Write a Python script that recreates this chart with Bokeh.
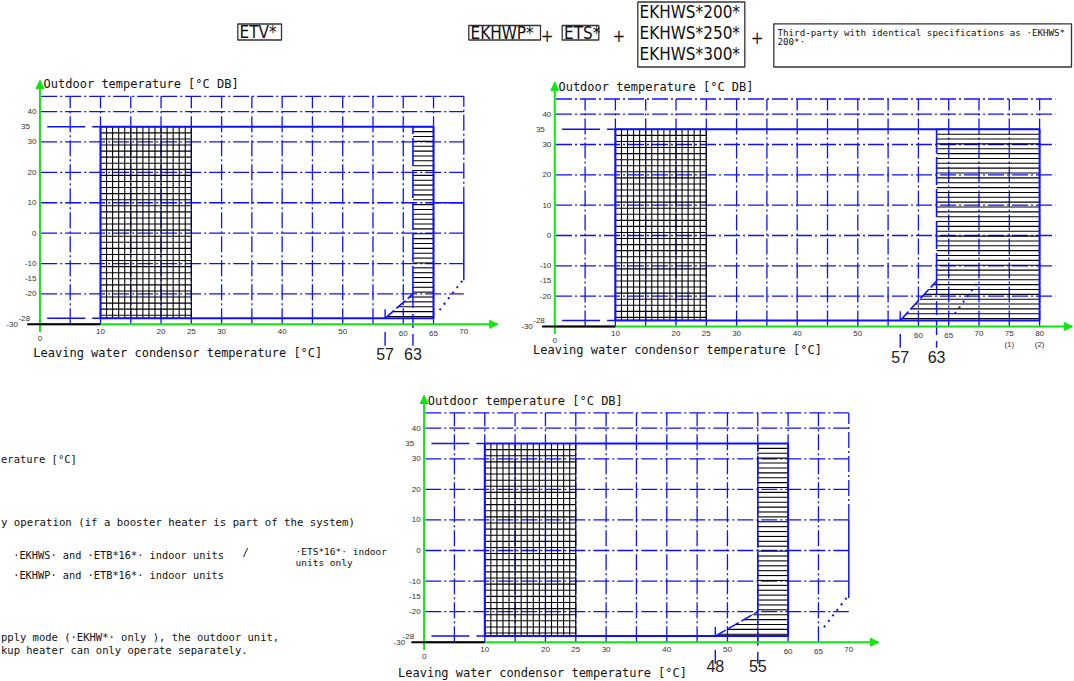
import numpy as np
from bokeh.plotting import figure
from bokeh.models import Range1d, Arrow, NormalHead
from bokeh.layouts import column, row
from bokeh.embed import file_html
from bokeh.resources import INLINE
from bokeh.core.properties import value

# ---------------- data ----------------
header_boxes = ["ETV*", "EKHWP* ", "ETS*"]
header_stack = ["EKHWS*200*", "EKHWS*250*", "EKHWS*300*"]
header_third = ["Third-party with identical specifications as ·EKHWS*", "200*·"]

y_axis_title = "Outdoor temperature [°C DB]"
x_axis_title = "Leaving water condensor temperature [°C]"
y_tick_values = [40, 35, 30, 20, 10, 0, -10, -15, -20, -28, -30]
y_tick_labels = ["40", "35", "30", "20", "10", "0", "-10", "-15", "-20", "-28", "-30"]
y_grid_values = [45, 40, 30, 20, 10, 0, -10, -20]

outdoor_min, outdoor_max = -28, 35
lwt_min = 10
space_heating_max = 25
axis_bottom = -30

# chart 1 : ETV*
c1_x_ticks = [0, 10, 20, 25, 30, 40, 50, 60, 65, 70]
c1_x_notes = []
c1_lwt_max = 65
c1_knee_x = 61.6          # drawn position of the 63 °C limit
c1_knee_y = -20
c1_ramp_x = 57
c1_marks_x = [57, 61.6]
c1_marks_lab = ["57", "63"]
c1_grid_x_max = 70
c1_grid_h_end = 70
c1_dotted_x = [66.0, 69.8]
c1_dotted_y = [-25.3, -15.5]

# chart 2 : EKHWP* + ETS* + EKHWS*
c2_x_ticks = [0, 10, 20, 25, 30, 40, 50, 60, 65, 70, 75, 80]
c2_x_notes = [(75, "(1)"), (80, "(2)")]
c2_lwt_max = 80
c2_knee_x = 63
c2_knee_y = -15
c2_ramp_x = 57
c2_marks_x = [57, 63]
c2_marks_lab = ["57", "63"]
c2_grid_x_max = 80
c2_grid_h_end = 82.6
c2_dotted_x = [66.0, 69.8]
c2_dotted_y = [-25.8, -15.4]

# chart 3
c3_x_ticks = [0, 10, 20, 25, 30, 40, 50, 60, 65, 70]
c3_x_notes = []
c3_lwt_max = 60
c3_knee_x = 55
c3_knee_y = -20
c3_ramp_x = 48
c3_marks_x = [48, 55]
c3_marks_lab = ["48", "55"]
c3_grid_x_max = 70
c3_grid_h_end = 70
c3_dotted_x = [65.9, 69.7]
c3_dotted_y = [-25.1, -15.3]

notes_text = [
    "erature [°C]",
    "y operation (if a booster heater is part of the system)",
    "·EKHWS· and ·ETB*16*· indoor units",
    "/",
    "·ETS*16*· indoor",
    "units only",
    "·EKHWP· and ·ETB*16*· indoor units",
    "pply mode (·EKHW*· only ), the outdoor unit,",
    "kup heater can only operate separately.",
]

# ---------------- styles ----------------
BLUE = "#1010ff"
GREEN = "#10e610"
GRID_DASH = "16 3 2 3"
MONO = value("DejaVu Sans Mono")
COND = value("DejaVu Sans Condensed")
TICKF = value("Liberation Sans")


def make_fig(L, T, R, B, ox, oy, sx, sy):
    p = figure(width=R - L, height=B - T,
               x_range=Range1d((L - ox) / sx, (R - ox) / sx),
               y_range=Range1d((oy - B) / sy, (oy - T) / sy),
               output_backend="svg", toolbar_location=None, tools="",
               x_axis_location=None, y_axis_location=None,
               min_border=0, outline_line_color=None,
               background_fill_color="white", border_fill_color="white")
    p.grid.visible = False
    return p


def draw_chart(p, cfg):
    lmax = cfg["lwt_max"]
    # vertical grid
    xs, ys = [], []
    for x in range(5, cfg["grid_x_max"] + 1, 5):
        bot = axis_bottom
        if cfg["ext"] and x == cfg["grid_x_max"]:
            bot = 10
        xs.append([x, x])
        ys.append([bot, 45])
    p.multi_line(xs, ys, line_color=BLUE, line_width=1.3, line_dash=GRID_DASH)
    # horizontal grid
    p.multi_line([[0.2, cfg["grid_h_end"]] for _ in y_grid_values],
                 [[y, y] for y in y_grid_values],
                 line_color=BLUE, line_width=1.3, line_dash=GRID_DASH)
    if cfg["ext"]:
        p.line([cfg["grid_x_max"], cfg["grid_x_max"]], [10, -15.5], line_color=BLUE, line_width=1.5)
        if cfg["ext_h"]:
            p.line([lmax, cfg["grid_x_max"]], [10, 10], line_color=BLUE, line_width=1.5)

    # cross hatched zone
    hx = np.arange(lwt_min, space_heating_max + 0.01, 1.0)
    p.multi_line([[x, x] for x in hx], [[outdoor_min, outdoor_max] for _ in hx],
                 line_color="black", line_width=1.1)
    hy = np.append(np.arange(outdoor_max, outdoor_min, -2.0), outdoor_min)
    p.multi_line([[lwt_min, space_heating_max] for _ in hy], [[y, y] for y in hy],
                 line_color="black", line_width=1.1)

    # horizontally hatched zone
    kx, ky, rx = cfg["knee_x"], cfg["knee_y"], cfg["ramp_x"]
    sy = np.arange(outdoor_max, outdoor_min - 0.01, -1.6)
    left = np.where(sy >= ky, kx, rx + (sy - outdoor_min) / (ky - outdoor_min) * (kx - rx))
    p.multi_line([[l, lmax] for l in left], [[y, y] for y in sy],
                 line_color="black", line_width=1.1)

    # envelope
    p.multi_line([[lwt_min, lmax], [lwt_min, lmax]], [[outdoor_max] * 2, [outdoor_min] * 2],
                 line_color=BLUE, line_width=2)
    p.multi_line([[lwt_min] * 2, [lmax] * 2], [[outdoor_min, outdoor_max]] * 2,
                 line_color=BLUE, line_width=2)
    p.multi_line([[1.2, lwt_min], [1.2, lwt_min]], [[outdoor_max] * 2, [outdoor_min] * 2],
                 line_color=BLUE, line_width=1.5, line_dash="38 7")
    p.line([kx, kx], [ky, outdoor_max], line_color=BLUE, line_width=1.6, line_dash="28 4")
    p.line([rx, kx], [outdoor_min, ky], line_color=BLUE, line_width=1.6, line_dash="12 3")
    p.line([rx, rx], [outdoor_min, outdoor_min + 3], line_color=BLUE, line_width=1.4)
    p.line([kx, kx], [ky, -37], line_color=BLUE, line_width=1.4, line_dash="14 6")
    p.line([rx, rx], [-32.5, -37], line_color=BLUE, line_width=1.4)
    p.line(cfg["dotted_x"], cfg["dotted_y"], line_color=BLUE, line_width=2, line_dash="2 5")

    # axes
    p.line([0, 0], [-32.5, cfg["y_arrow"]], line_color=GREEN, line_width=2)
    p.line([0, cfg["x_arrow"]], [axis_bottom, axis_bottom], line_color=GREEN, line_width=2)
    p.line([-2.1, lwt_min], [axis_bottom, axis_bottom], line_color="black", line_width=2)
    p.add_layout(Arrow(end=NormalHead(size=8, fill_color=GREEN, line_color=GREEN),
                       x_start=0, y_start=cfg["y_arrow"] - 0.5, x_end=0, y_end=cfg["y_arrow"],
                       line_color=GREEN, line_width=2))
    p.add_layout(Arrow(end=NormalHead(size=8, fill_color=GREEN, line_color=GREEN),
                       x_start=cfg["x_arrow"] - 0.3, y_start=axis_bottom,
                       x_end=cfg["x_arrow"], y_end=axis_bottom,
                       line_color=GREEN, line_width=2))

    # tick labels
    yoff = [cfg["m30_off"] if v == -30 else (-10 if v in (35, -28) else -3.5) for v in y_tick_values]
    p.text(x=[0] * len(y_tick_values), y=y_tick_values, text=y_tick_labels, x_offset=yoff,
           text_align="right", text_baseline="middle", text_font=TICKF,
           text_font_size="8px", text_color="#333333")
    xt = cfg["x_ticks"]
    xoff = [14 if v == 0 else (9 if v in (60, 65) else 7) for v in xt]
    p.text(x=xt, y=[axis_bottom] * len(xt), text=[str(v) for v in xt], y_offset=xoff,
           text_align="center", text_baseline="middle", text_font=TICKF,
           text_font_size="8px", text_color="#333333")
    if cfg["x_notes"]:
        p.text(x=[n[0] for n in cfg["x_notes"]], y=[axis_bottom] * len(cfg["x_notes"]),
               text=[n[1] for n in cfg["x_notes"]], y_offset=18,
               text_align="center", text_baseline="middle", text_font=TICKF,
               text_font_size="8px", text_color="#333333")
    p.text(x=cfg["marks_x"], y=[axis_bottom] * 2, text=cfg["marks_lab"], y_offset=cfg["mark_off"],
           text_align="center", text_baseline="middle", text_font=TICKF,
           text_font_size="16px", text_color="#222222")
    # titles
    p.text(x=[0.6], y=[49], text=[y_axis_title], text_align="left", text_baseline="middle",
           text_font=MONO, text_font_size="12px", text_color="#111111")
    p.text(x=[cfg["xt_x"]], y=[axis_bottom], text=[x_axis_title], y_offset=cfg["xt_off"],
           text_align="left", text_baseline="middle",
           text_font=MONO, text_font_size="12px", text_color="#111111")


cfg1 = dict(lwt_max=c1_lwt_max, knee_x=c1_knee_x, knee_y=c1_knee_y, ramp_x=c1_ramp_x,
            marks_x=c1_marks_x, marks_lab=c1_marks_lab, grid_x_max=c1_grid_x_max,
            grid_h_end=c1_grid_h_end, dotted_x=c1_dotted_x, dotted_y=c1_dotted_y,
            x_ticks=c1_x_ticks, x_notes=c1_x_notes, ext=True, ext_h=True, m30_off=-22,
            x_arrow=75.6, y_arrow=50.2, mark_off=29.5, xt_x=-1.1, xt_off=29)
cfg2 = dict(lwt_max=c2_lwt_max, knee_x=c2_knee_x, knee_y=c2_knee_y, ramp_x=c2_ramp_x,
            marks_x=c2_marks_x, marks_lab=c2_marks_lab, grid_x_max=c2_grid_x_max,
            grid_h_end=c2_grid_h_end, dotted_x=c2_dotted_x, dotted_y=c2_dotted_y,
            x_ticks=c2_x_ticks, x_notes=c2_x_notes, ext=False, ext_h=False, m30_off=-22,
            x_arrow=85.4, y_arrow=50.5, mark_off=30.5, xt_x=-3.6, xt_off=23.5)
cfg3 = dict(lwt_max=c3_lwt_max, knee_x=c3_knee_x, knee_y=c3_knee_y, ramp_x=c3_ramp_x,
            marks_x=c3_marks_x, marks_lab=c3_marks_lab, grid_x_max=c3_grid_x_max,
            grid_h_end=c3_grid_h_end, dotted_x=c3_dotted_x, dotted_y=c3_dotted_y,
            x_ticks=c3_x_ticks, x_notes=c3_x_notes, ext=True, ext_h=False, m30_off=-19,
            x_arrow=74.9, y_arrow=50.7, mark_off=23.5, xt_x=-4.3, xt_off=30.5)

f1 = make_fig(0, 70, 520, 370, 39.45, 232.67, 6.055, 3.04)
draw_chart(f1, cfg1)
f2 = make_fig(520, 70, 1074, 370, 554.3, 235.0, 6.06, 3.033)
draw_chart(f2, cfg2)
f3 = make_fig(390, 370, 1074, 681, 423.6, 550.0, 6.067, 3.0575)
draw_chart(f3, cfg3)

# ---------------- header ----------------
hdr = figure(width=1074, height=70, x_range=Range1d(0, 1074), y_range=Range1d(70, 0),
             output_backend="svg", toolbar_location=None, tools="",
             x_axis_location=None, y_axis_location=None, min_border=0,
             outline_line_color=None, background_fill_color="white", border_fill_color="white")
hdr.grid.visible = False
box_l = [237.3, 468.3, 561.7, 637.3, 773.3]
box_r = [281.0, 540.0, 598.3, 744.3, 1071.0]
box_t = [23.5, 25.0, 25.0, 1.5, 23.3]
box_b = [39.5, 39.5, 39.5, 66.5, 66.5]
hdr.quad(left=box_l, right=box_r, top=box_t, bottom=box_b, fill_color=None,
         line_color="#333333", line_width=1.3)
hdr.text(x=[239.0, 470.0, 563.5], y=[31.8, 32.3, 32.3], text=header_boxes,
         text_align="left", text_baseline="middle", text_font=COND,
         text_font_size="17px", text_color="#111111")
hdr.text(x=[546.7, 618.3, 756.7], y=[34.5, 35.0, 37.0], text=["+", "+", "+"],
         text_align="center", text_baseline="middle", text_font=COND,
         text_font_size="17px", text_color="#111111")
hdr.text(x=[639.0] * 3, y=[11.0, 32.0, 53.3], text=header_stack,
         text_align="left", text_baseline="middle", text_font=COND,
         text_font_size="17px", text_color="#111111")
hdr.text(x=[777.0, 777.0], y=[32.0, 40.5], text=header_third,
         text_align="left", text_baseline="middle", text_font=MONO,
         text_font_size="9.2px", text_color="#111111")

# ---------------- notes ----------------
nt = figure(width=390, height=311, x_range=Range1d(0, 390), y_range=Range1d(681, 370),
            output_backend="svg", toolbar_location=None, tools="",
            x_axis_location=None, y_axis_location=None, min_border=0,
            outline_line_color=None, background_fill_color="white", border_fill_color="white")
nt.grid.visible = False
note_x = [0.5, 0.5, 12.7, 242, 295, 295, 12.7, 0.5, 0.5]
note_y = [458, 521.7, 554, 551, 550.5, 561.5, 574, 636.7, 649.3]
note_sz = ["10.5px", "10.7px", "10.3px", "10.5px", "9.5px", "9.5px", "10.3px", "10.5px", "10.5px"]
nt.text(x=note_x, y=note_y, text=notes_text, text_font_size=note_sz,
        text_align="left", text_baseline="middle", text_font=MONO, text_color="#111111")

layout = column(hdr, row(f1, f2), row(nt, f3))
open("out.html", "w").write(file_html(layout, INLINE))
